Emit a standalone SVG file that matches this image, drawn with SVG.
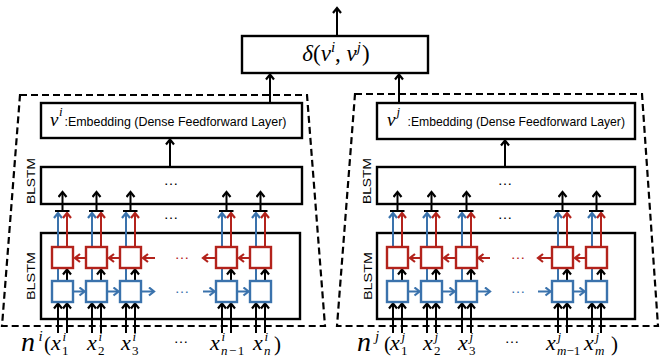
<svg xmlns="http://www.w3.org/2000/svg" width="661" height="358" viewBox="0 0 661 358">
<style>
.dash{fill:none;stroke:#000;stroke-width:2.2;stroke-dasharray:7 4}
.box{fill:#fff;stroke:#000;stroke-width:2.4}
.rc{fill:#fff;stroke:#B3231C;stroke-width:2.4}
.bc{fill:#fff;stroke:#3A72AC;stroke-width:2.4}
.lk{fill:none;stroke:#000;stroke-width:2}
.lr{fill:none;stroke:#B3231C;stroke-width:2}
.lb{fill:none;stroke:#3A72AC;stroke-width:2}
.ak{marker-end:url(#ak)}
.ar{marker-end:url(#ar)}
.ab{marker-end:url(#ab)}
.sans{font-family:"Liberation Sans",Arial,sans-serif;fill:#000}
.mi{font-family:"Liberation Serif","Times New Roman",serif;font-style:italic;fill:#000}
.mu{font-family:"Liberation Serif","Times New Roman",serif;fill:#000}
.dots{font-family:"Liberation Sans",Arial,sans-serif;font-size:15px;text-anchor:middle}
.sp{font-size:13px}
</style>
<defs>
<marker id="ak" viewBox="-7 -5 9 10" refX="0" refY="0" markerWidth="9" markerHeight="10" markerUnits="userSpaceOnUse" orient="auto"><path d="M-5,-4 L0,0 L-5,4" fill="none" stroke="#000" stroke-width="2.2"/></marker>
<marker id="ar" viewBox="-7 -5 9 10" refX="0" refY="0" markerWidth="9" markerHeight="10" markerUnits="userSpaceOnUse" orient="auto"><path d="M-5,-4 L0,0 L-5,4" fill="none" stroke="#B3231C" stroke-width="2.2"/></marker>
<marker id="ab" viewBox="-7 -5 9 10" refX="0" refY="0" markerWidth="9" markerHeight="10" markerUnits="userSpaceOnUse" orient="auto"><path d="M-5,-4 L0,0 L-5,4" fill="none" stroke="#3A72AC" stroke-width="2.2"/></marker>
</defs>

<g id="siamese-i"><polygon class="dash" points="20,95 307,95 325,326 2,326"/></g>
<g id="siamese-j"><polygon class="dash" points="355,94 642,94 658,326 337,326"/></g>

<g id="delta">
<rect class="box" x="242" y="36" width="186" height="37"/>
<text class="mu" x="336" y="61" text-anchor="middle" font-size="23"><tspan font-style="italic">δ</tspan>(<tspan font-style="italic">v</tspan><tspan font-style="italic" font-size="15" dy="-9">i</tspan><tspan dy="9">,  </tspan><tspan font-style="italic">v</tspan><tspan font-style="italic" font-size="15" dy="-9">j</tspan><tspan dy="9" dx="1">)</tspan></text>
</g>

<g id="emb-i">
<rect class="box" x="41" y="103" width="261" height="35"/>
<text class="mi" x="50" y="126" font-size="19">v</text>
<text class="mi" x="59" y="116" font-size="13">i</text>
<text class="sans" x="64.5" y="126" font-size="12.45">:Embedding (Dense Feedforward Layer)</text>
</g>
<g id="emb-j">
<rect class="box" x="377" y="103" width="258" height="36"/>
<text class="mi" x="387" y="126" font-size="19">v</text>
<text class="mi" x="396.5" y="116" font-size="13">j</text>
<text class="sans" x="407.5" y="126" font-size="12.2">:Embedding (Dense Feedforward Layer)</text>
</g>

<g id="blstm2-i">
<rect class="box" x="41" y="167" width="261" height="37"/>
<text class="sans" font-size="11.5" text-anchor="middle" textLength="46" lengthAdjust="spacingAndGlyphs" transform="translate(34.5,181) rotate(-90)">BLSTM</text>
<text class="dots" x="171" y="185">…</text>
</g>
<g id="blstm2-j">
<rect class="box" x="377" y="167" width="258" height="37"/>
<text class="sans" font-size="11.5" text-anchor="middle" textLength="46" lengthAdjust="spacingAndGlyphs" transform="translate(371,181) rotate(-90)">BLSTM</text>
<text class="dots" x="505" y="185">…</text>
</g>

<g id="blstm1-i">
<rect class="box" x="41" y="233" width="259" height="86"/>
<text class="sans" font-size="11.5" text-anchor="middle" textLength="48" lengthAdjust="spacingAndGlyphs" transform="translate(34.5,276) rotate(-90)">BLSTM</text>
</g>
<g id="blstm1-j">
<rect class="box" x="377" y="233" width="258" height="86"/>
<text class="sans" font-size="11.5" text-anchor="middle" textLength="48" lengthAdjust="spacingAndGlyphs" transform="translate(371.5,276) rotate(-90)">BLSTM</text>
</g>

<g id="connectors">
<path class="lk ak" d="M337,36 V8"/>
<path class="lk ak" d="M270,103 V74.5"/>
<path class="lk ak" d="M399,103 V74.5"/>
<path class="lk ak" d="M170,167 V139.5"/>
<path class="lk ak" d="M505,167 V140.5"/>
<g id="cols-i">
<path class="lk ak" d="M58,333 V303.5"/><path class="lk ak" d="M67,333 V303.5"/><path class="lk ak" d="M67,280 V269.5"/><path class="lb" d="M58,280 V268"/><path class="lb ab" d="M58,247 V213"/><path class="lr ar" d="M67,247 V213"/><path class="lk" d="M55,211 H69.5"/><path class="lk ak" d="M62.5,211 V192"/>
<path class="lk ak" d="M92,333 V303.5"/><path class="lk ak" d="M101,333 V303.5"/><path class="lk ak" d="M101,280 V269.5"/><path class="lb" d="M92,280 V268"/><path class="lb ab" d="M92,247 V213"/><path class="lr ar" d="M101,247 V213"/><path class="lk" d="M89,211 H103.5"/><path class="lk ak" d="M96.5,211 V192"/>
<path class="lk ak" d="M126,333 V303.5"/><path class="lk ak" d="M135,333 V303.5"/><path class="lk ak" d="M135,280 V269.5"/><path class="lb" d="M126,280 V268"/><path class="lb ab" d="M126,247 V213"/><path class="lr ar" d="M135,247 V213"/><path class="lk" d="M123,211 H137.5"/><path class="lk ak" d="M130.5,211 V192"/>
<path class="lk ak" d="M222,333 V303.5"/><path class="lk ak" d="M231,333 V303.5"/><path class="lk ak" d="M231,280 V269.5"/><path class="lb" d="M222,280 V268"/><path class="lb ab" d="M222,247 V213"/><path class="lr ar" d="M231,247 V213"/><path class="lk" d="M219,211 H233.5"/><path class="lk ak" d="M226.5,211 V192"/>
<path class="lk ak" d="M256,333 V303.5"/><path class="lk ak" d="M265,333 V303.5"/><path class="lk ak" d="M265,280 V269.5"/><path class="lb" d="M256,280 V268"/><path class="lb ab" d="M256,247 V213"/><path class="lr ar" d="M265,247 V213"/><path class="lk" d="M253,211 H267.5"/><path class="lk ak" d="M260.5,211 V192"/>
<path class="lr ar" d="M85,258 H75"/><path class="lr ar" d="M119,258 H109"/><path class="lr ar" d="M155,258 H143"/><path class="lr ar" d="M215,258 H203"/><path class="lr ar" d="M249,258 H239"/>
<path class="lb ab" d="M74,291.5 H84.5"/><path class="lb ab" d="M108,291.5 H118.5"/><path class="lb ab" d="M142,291.5 H154"/><path class="lb ab" d="M203,291.5 H214.5"/><path class="lb ab" d="M238,291.5 H248.5"/>
</g>
<g id="cols-j">
<path class="lk ak" d="M393,333 V303.5"/><path class="lk ak" d="M402,333 V303.5"/><path class="lk ak" d="M402,280 V269.5"/><path class="lb" d="M393,280 V268"/><path class="lb ab" d="M393,247 V213"/><path class="lr ar" d="M402,247 V213"/><path class="lk" d="M390,211 H404.5"/><path class="lk ak" d="M397.5,211 V192"/>
<path class="lk ak" d="M427,333 V303.5"/><path class="lk ak" d="M436,333 V303.5"/><path class="lk ak" d="M436,280 V269.5"/><path class="lb" d="M427,280 V268"/><path class="lb ab" d="M427,247 V213"/><path class="lr ar" d="M436,247 V213"/><path class="lk" d="M424,211 H438.5"/><path class="lk ak" d="M431.5,211 V192"/>
<path class="lk ak" d="M462,333 V303.5"/><path class="lk ak" d="M471,333 V303.5"/><path class="lk ak" d="M471,280 V269.5"/><path class="lb" d="M462,280 V268"/><path class="lb ab" d="M462,247 V213"/><path class="lr ar" d="M471,247 V213"/><path class="lk" d="M459,211 H473.5"/><path class="lk ak" d="M466.5,211 V192"/>
<path class="lk ak" d="M558,333 V303.5"/><path class="lk ak" d="M567,333 V303.5"/><path class="lk ak" d="M567,280 V269.5"/><path class="lb" d="M558,280 V268"/><path class="lb ab" d="M558,247 V213"/><path class="lr ar" d="M567,247 V213"/><path class="lk" d="M555,211 H569.5"/><path class="lk ak" d="M562.5,211 V192"/>
<path class="lk ak" d="M592,333 V303.5"/><path class="lk ak" d="M601,333 V303.5"/><path class="lk ak" d="M601,280 V269.5"/><path class="lb" d="M592,280 V268"/><path class="lb ab" d="M592,247 V213"/><path class="lr ar" d="M601,247 V213"/><path class="lk" d="M589,211 H603.5"/><path class="lk ak" d="M596.5,211 V192"/>
<path class="lr ar" d="M420,258 H410"/><path class="lr ar" d="M455,258 H444"/><path class="lr ar" d="M490,258 H478.5"/><path class="lr ar" d="M551,258 H538"/><path class="lr ar" d="M585,258 H575"/>
<path class="lb ab" d="M409,291.5 H419.5"/><path class="lb ab" d="M443,291.5 H454.5"/><path class="lb ab" d="M478,291.5 H490"/><path class="lb ab" d="M538,291.5 H550.5"/><path class="lb ab" d="M574,291.5 H584.5"/>
</g>
</g>

<g id="cells-i">
<g id="bwd-i-1"><rect class="rc" x="52" y="247" width="21" height="21"/></g>
<g id="bwd-i-2"><rect class="rc" x="86" y="247" width="21" height="21"/></g>
<g id="bwd-i-3"><rect class="rc" x="120" y="247" width="21" height="21"/></g>
<g id="bwd-i-n1"><rect class="rc" x="216" y="247" width="21" height="21"/></g>
<g id="bwd-i-n"><rect class="rc" x="250" y="247" width="21" height="21"/></g>
<g id="fwd-i-1"><rect class="bc" x="52" y="281" width="21" height="21"/></g>
<g id="fwd-i-2"><rect class="bc" x="86" y="281" width="21" height="21"/></g>
<g id="fwd-i-3"><rect class="bc" x="120" y="281" width="21" height="21"/></g>
<g id="fwd-i-n1"><rect class="bc" x="216" y="281" width="21" height="21"/></g>
<g id="fwd-i-n"><rect class="bc" x="250" y="281" width="21" height="21"/></g>
<text class="dots" x="171" y="219">…</text>
<text class="dots" x="182" y="259" fill="#B3231C">…</text>
<text class="dots" x="182" y="292.5" fill="#3A72AC">…</text>
</g>
<g id="cells-j">
<g id="bwd-j-1"><rect class="rc" x="387" y="247" width="21" height="21"/></g>
<g id="bwd-j-2"><rect class="rc" x="421" y="247" width="21" height="21"/></g>
<g id="bwd-j-3"><rect class="rc" x="456" y="247" width="21" height="21"/></g>
<g id="bwd-j-m1"><rect class="rc" x="552" y="247" width="21" height="21"/></g>
<g id="bwd-j-m"><rect class="rc" x="586" y="247" width="21" height="21"/></g>
<g id="fwd-j-1"><rect class="bc" x="387" y="281" width="21" height="21"/></g>
<g id="fwd-j-2"><rect class="bc" x="421" y="281" width="21" height="21"/></g>
<g id="fwd-j-3"><rect class="bc" x="456" y="281" width="21" height="21"/></g>
<g id="fwd-j-m1"><rect class="bc" x="552" y="281" width="21" height="21"/></g>
<g id="fwd-j-m"><rect class="bc" x="586" y="281" width="21" height="21"/></g>
<text class="dots" x="505" y="219">…</text>
<text class="dots" x="518" y="259" fill="#B3231C">…</text>
<text class="dots" x="518" y="292.5" fill="#3A72AC">…</text>
</g>

<g id="input-i">
<text class="mi" x="21" y="351" font-size="28">n</text>
<text class="mi" x="38.5" y="341" font-size="15">i</text>
<text class="mu" x="44" y="351" font-size="21">(</text>
<text class="mi" x="51" y="350" font-size="22">x</text><text class="mi sp" x="62.5" y="341">i</text><text class="mu sp" x="62" y="355">1</text>
<text class="mi" x="87" y="350" font-size="22">x</text><text class="mi sp" x="98.5" y="341">i</text><text class="mu sp" x="98" y="355">2</text>
<text class="mi" x="121" y="350" font-size="22">x</text><text class="mi sp" x="132.5" y="341">i</text><text class="mu sp" x="132" y="355">3</text>
<text class="dots" x="181" y="343">…</text>
<text class="mi" x="210" y="350" font-size="22">x</text><text class="mi sp" x="221.5" y="341">i</text><text class="mu sp" x="221" y="355"><tspan font-style="italic">n</tspan><tspan dx="1.5">−</tspan><tspan dx="1.5">1</tspan></text>
<text class="mi" x="253" y="350" font-size="22">x</text><text class="mi sp" x="264.5" y="341">i</text><text class="mi sp" x="264" y="355">n</text>
<text class="mu" x="274" y="351" font-size="21">)</text>
</g>
<g id="input-j">
<text class="mi" x="357" y="351" font-size="28">n</text>
<text class="mi" x="375" y="341" font-size="15">j</text>
<text class="mu" x="384" y="351" font-size="21">(</text>
<text class="mi" x="390" y="350" font-size="22">x</text><text class="mi sp" x="401.5" y="341">j</text><text class="mu sp" x="401" y="355">1</text>
<text class="mi" x="423" y="350" font-size="22">x</text><text class="mi sp" x="434.5" y="341">j</text><text class="mu sp" x="434" y="355">2</text>
<text class="mi" x="458" y="350" font-size="22">x</text><text class="mi sp" x="469.5" y="341">j</text><text class="mu sp" x="469" y="355">3</text>
<text class="dots" x="512" y="343">…</text>
<text class="mi" x="546" y="350" font-size="22">x</text><text class="mi sp" x="557.5" y="341">j</text><text class="mu sp" x="557" y="355"><tspan font-style="italic">m</tspan>−1</text>
<text class="mi" x="584" y="350" font-size="22">x</text><text class="mi sp" x="595.5" y="341">j</text><text class="mi sp" x="595" y="355">m</text>
<text class="mu" x="611" y="351" font-size="21">)</text>
</g>
</svg>
